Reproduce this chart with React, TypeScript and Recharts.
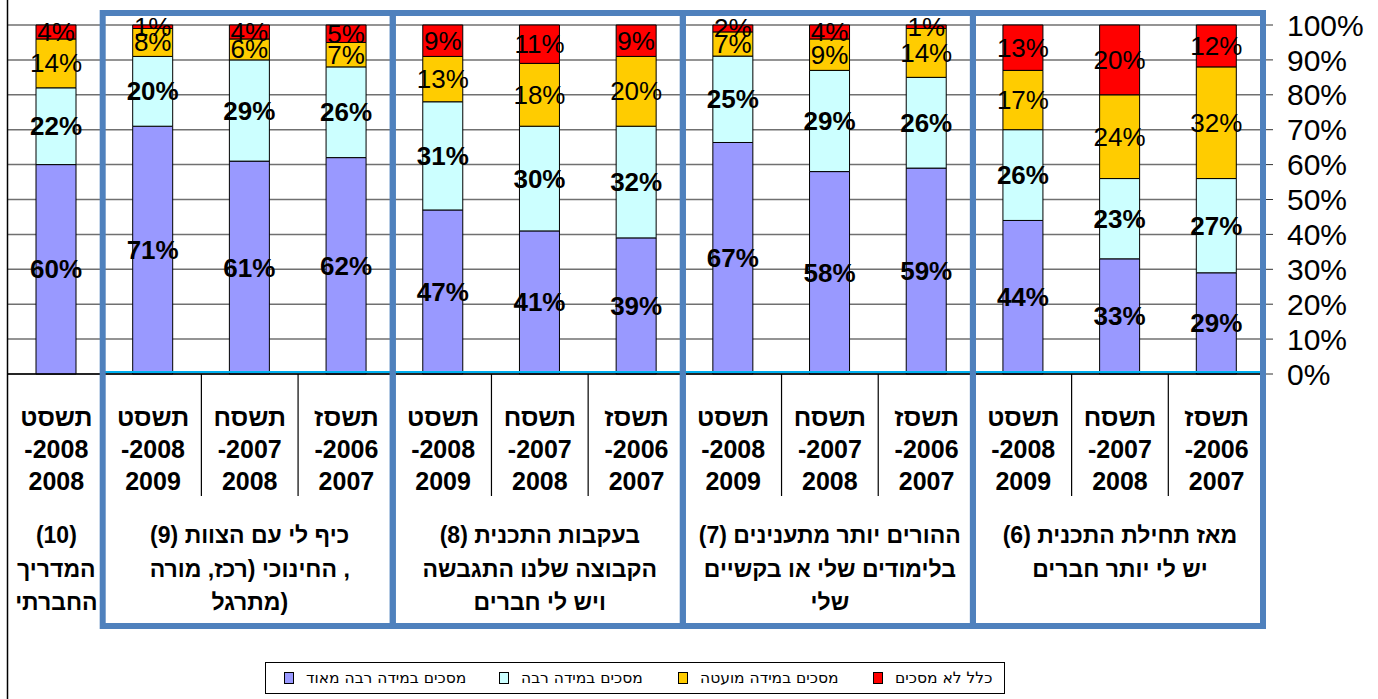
import React from 'react';
import { BarChart, Bar, XAxis, YAxis, CartesianGrid, LabelList } from 'recharts';

// ---------- data ----------
const hebrewYears = ['תשסט', 'תשסט', 'תשסח', 'תשסז', 'תשסט', 'תשסח', 'תשסז', 'תשסט', 'תשסח', 'תשסז', 'תשסט', 'תשסח', 'תשסז'];
const yearStart = ['-2008', '-2008', '-2007', '-2006', '-2008', '-2007', '-2006', '-2008', '-2007', '-2006', '-2008', '-2007', '-2006'];
const yearEnd = ['2008', '2009', '2008', '2007', '2009', '2008', '2007', '2009', '2008', '2007', '2009', '2008', '2007'];

const veryMuch = [60, 71, 61, 62, 47, 41, 39, 67, 58, 59, 44, 33, 29];
const much = [22, 20, 29, 26, 31, 30, 32, 25, 29, 26, 26, 23, 27];
const little = [14, 8, 6, 7, 13, 18, 20, 7, 9, 14, 17, 24, 32];
const notAtAll = [4, 1, 4, 5, 9, 11, 9, 2, 4, 1, 13, 20, 12];

const groupLines = [
  ['(10)', 'המדריך', 'החברתי'],
  ['כיף לי עם הצוות (9)', ', החינוכי (רכז, מורה', '(מתרגל'],
  ['בעקבות התכנית (8)', 'הקבוצה שלנו התגבשה', 'ויש לי חברים'],
  ['ההורים יותר מתענינים (7)', 'בלימודים שלי או בקשיים', 'שלי'],
  ['מאז תחילת התכנית (6)', 'יש לי יותר חברים'],
];
const groupSizes = [1, 3, 3, 3, 3];

const yTicks = [0, 0.1, 0.2, 0.3, 0.4, 0.5, 0.6, 0.7, 0.8, 0.9, 1];

const seriesNames = ['מסכים במידה רבה מאוד', 'מסכים במידה רבה', 'מסכים במידה מועטה', 'כלל לא מסכים'];
const seriesKeys = ['veryMuch', 'much', 'little', 'notAtAll'];
const seriesColors = ['#9999FF', '#CCFFFF', '#FFCC00', '#FF0000'];
const seriesBold = [true, true, false, false];

const data = veryMuch.map((v, i) => ({
  id: 'c' + i,
  veryMuch: v,
  much: much[i],
  little: little[i],
  notAtAll: notAtAll[i],
}));

// ---------- layout ----------
const W = 1378;
const H = 699;
const MARGIN = { top: 25, right: 0, bottom: 0, left: 8 };
const Y_W = 113;
const X_H = 325;
const PLOT_BOTTOM = H - X_H;
const BAND = (W - MARGIN.left - MARGIN.right - Y_W) / data.length;
const FONT = '"Liberation Sans", Arial, sans-serif';
const BOX_COLOR = '#4F81BD';
const LEGEND_X = [283, 498, 677, 872];

const groupStarts: number[] = [];
{
  let s = 0;
  groupSizes.forEach((n) => {
    groupStarts.push(s);
    s += n;
  });
}

const CategoryTick = (props: any) => {
  const { x, payload } = props;
  const i = payload?.index ?? props.index ?? 0;
  const gIdx = groupStarts.indexOf(i);
  const left = x - BAND / 2;
  const elems: any[] = [];

  if (i === 0) {
    elems.push(<line key="lb" x1={left - 0.5} x2={left - 0.5} y1={0} y2={H} stroke="#000" strokeWidth={1.5} />);
  }
  if (gIdx < 0) {
    elems.push(
      <line key="sep" x1={left} x2={left} y1={PLOT_BOTTOM} y2={PLOT_BOTTOM + 122} stroke="#000" strokeWidth={1.2} />
    );
  }
  const lines = [hebrewYears[i], yearStart[i], yearEnd[i]];
  lines.forEach((t, k) => {
    elems.push(
      <text
        key={'t' + k}
        x={x}
        y={PLOT_BOTTOM + 43 + k * 32}
        textAnchor="middle"
        dominantBaseline="central"
        fontFamily={FONT}
        fontWeight={700}
        fontSize={25}
        fill="#000"
      >
        {t}
      </text>
    );
  });

  if (gIdx >= 0) {
    const size = groupSizes[gIdx];
    const gx = x + ((size - 1) / 2) * BAND;
    groupLines[gIdx].forEach((t, k) => {
      elems.push(
        <text
          key={'g' + k}
          x={gx}
          y={PLOT_BOTTOM + 161 + k * 33.5}
          textAnchor="middle"
          dominantBaseline="central"
          direction="rtl"
          fontFamily={FONT}
          fontWeight={700}
          fontSize={23}
          fill="#000"
        >
          {t}
        </text>
      );
    });
    if (size > 1) {
      const bx = left - 2;
      const bw = size * BAND;
      elems.push(
        <line key="cy" x1={bx} x2={bx + bw} y1={PLOT_BOTTOM - 2} y2={PLOT_BOTTOM - 2} stroke="#00B0F0" strokeWidth={2} />
      );
      elems.push(
        <rect key="box" x={bx} y={13} width={bw} height={613} fill="none" stroke={BOX_COLOR} strokeWidth={6} />
      );
    }
  }
  return <g>{elems}</g>;
};

const makeLabel = (bold: boolean) => (p: any) => {
  const { x, y, width, height, value } = p;
  if (value == null) return null;
  return (
    <text
      x={x + width / 2}
      y={y + height / 2}
      textAnchor="middle"
      dominantBaseline="central"
      fontFamily={FONT}
      fontWeight={bold ? 700 : 400}
      fontSize={26}
      fill="#000"
    >
      {value + '%'}
    </text>
  );
};

const Legend = () => (
  <div
    style={{
      position: 'absolute',
      left: 265,
      top: 662,
      width: 740,
      height: 32,
      border: '1.5px solid #000',
      boxSizing: 'border-box',
      fontFamily: '"DejaVu Sans", sans-serif',
      fontSize: 15.5,
      color: '#000',
      background: '#fff',
    }}
  >
    {seriesNames.map((n, i) => (
      <div
        key={n}
        style={{
          position: 'absolute',
          left: LEGEND_X[i] - 265,
          top: 0,
          height: 29,
          display: 'flex',
          alignItems: 'center',
          gap: 12,
        }}
      >
        <div style={{ width: 8, height: 10, background: seriesColors[i], border: '1px solid #000' }} />
        <span style={{ direction: 'rtl', whiteSpace: 'nowrap' }}>{n}</span>
      </div>
    ))}
  </div>
);

export default function App() {
  return (
    <div style={{ position: 'absolute', left: 0, top: 0, width: W, height: H, background: '#fff' }}>
      <BarChart
        width={W}
        height={H}
        data={data}
        margin={MARGIN}
        stackOffset="expand"
        barSize={40}
        style={{ fontFamily: FONT }}
      >
        <CartesianGrid vertical={false} stroke="#707070" strokeWidth={1.5} />
        {seriesKeys.map((k, i) => (
          <Bar
            key={k}
            dataKey={k}
            stackId="s"
            fill={seriesColors[i]}
            stroke="#000"
            strokeWidth={1}
            isAnimationActive={false}
          >
            <LabelList dataKey={k} content={makeLabel(seriesBold[i])} />
          </Bar>
        ))}
        <XAxis
          dataKey="id"
          height={X_H}
          interval={0}
          tickLine={false}
          tickSize={0}
          tickMargin={0}
          axisLine={{ stroke: '#000', strokeWidth: 1.5 }}
          tick={<CategoryTick />}
        />
        <YAxis
          orientation="right"
          width={Y_W}
          domain={[0, 1]}
          ticks={yTicks}
          interval={0}
          tickFormatter={(v: number) => `${Math.round(v * 100)}%`}
          axisLine={{ stroke: '#000' }}
          tickLine={{ stroke: '#333' }}
          tickSize={8}
          tickMargin={14}
          tick={{ fontSize: 30, fill: '#000', fontFamily: FONT }}
        />
      </BarChart>
      <Legend />
    </div>
  );
}
